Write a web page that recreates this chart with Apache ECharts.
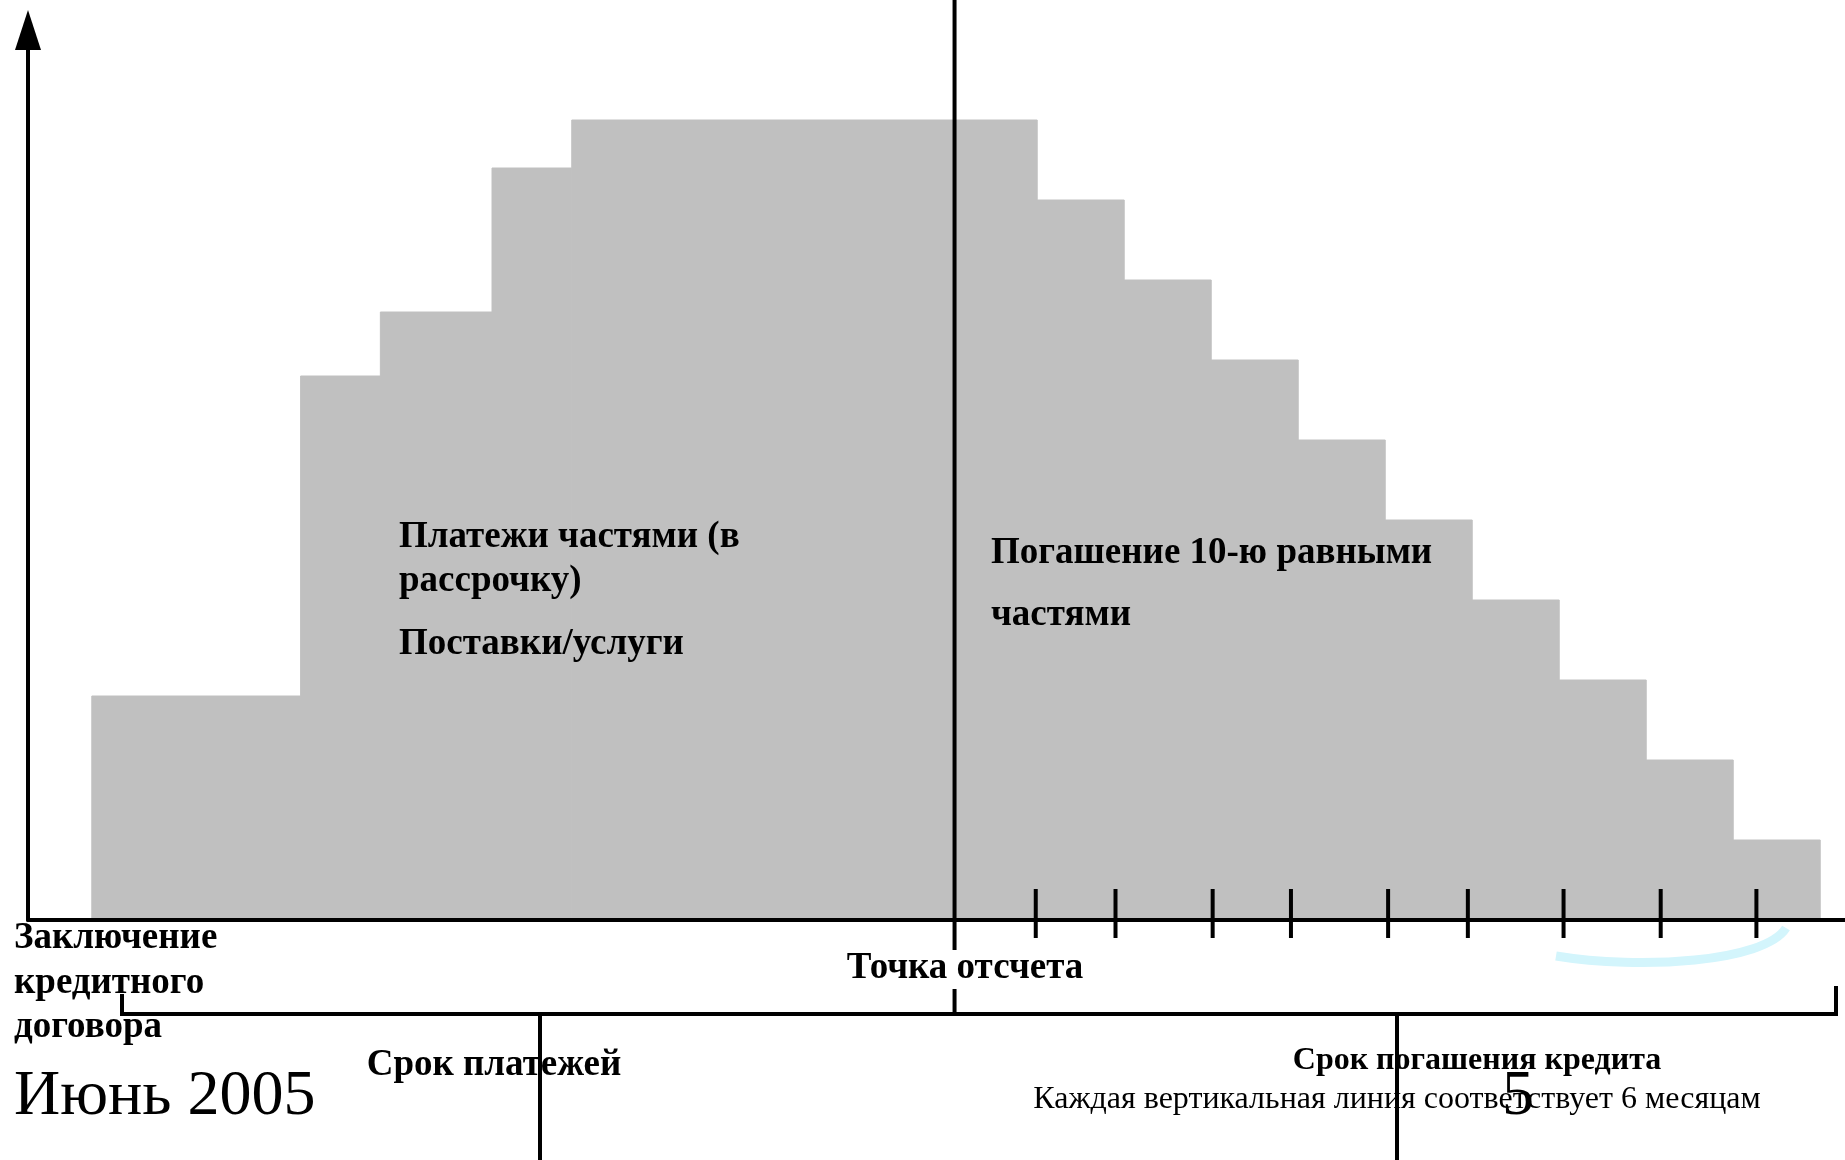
<!DOCTYPE html>
<html>
<head>
<meta charset="utf-8">
<script src="https://cdn.jsdelivr.net/npm/echarts@6/dist/echarts.min.js"></script>
<style>
  html, body { margin: 0; padding: 0; background: #fff; }
  #chart { width: 1845px; height: 1160px; }
</style>
</head>
<body>
<div id="chart"></div>
<script>
// x is in months from the y axis, y is in repayment parts (1/10 of the loan)
const stepStart  = [4.4, 18.8, 24.3, 32.0, 37.5, 69.6, 75.6, 81.6, 87.6, 93.6, 99.6, 105.6, 111.6, 117.6];
const stepEnd    = [18.8, 24.3, 32.0, 37.5, 69.6, 75.6, 81.6, 87.6, 93.6, 99.6, 105.6, 111.6, 117.6, 123.6];
const stepHeight = [2.8, 6.8, 7.6, 9.4, 10, 9, 8, 7, 6, 5, 4, 3, 2, 1];

// repayment marks along the axis and the starting point
const tickMonths = [69.5, 75.0, 81.7, 87.1, 93.8, 99.3, 105.9, 112.6, 119.2];
const refMonth = 63.9;

const serif = '"Times New Roman", "Liberation Serif", serif';

const chart = echarts.init(document.getElementById("chart"));

function label(text, x, y, size, bold, align) {
  return {
    type: "text",
    x: x,
    y: y,
    z: 100,
    style: {
      text: text,
      fill: "#000",
      font: (bold ? "bold " : "") + size + "px " + serif,
      textAlign: align || "left",
      textVerticalAlign: "middle",
    },
  };
}

function seg(x1, y1, x2, y2) {
  return {
    type: "line",
    z: 90,
    shape: { x1: x1, y1: y1, x2: x2, y2: y2 },
    style: { stroke: "#000", lineWidth: 4 },
  };
}

chart.setOption({
  animation: false,
  backgroundColor: "#fff",
  grid: { left: 28, right: 0, top: 30, bottom: 240, outerBoundsMode: "none" },
  xAxis: {
    type: "value",
    min: 0,
    max: 125.31,
    z: 10,
    axisLine: { show: true, lineStyle: { color: "#000", width: 4 } },
    axisTick: { show: false },
    axisLabel: { show: false },
    splitLine: { show: false },
  },
  yAxis: {
    type: "value",
    min: 0,
    max: 11.125,
    z: 10,
    axisLine: {
      show: true,
      symbol: ["none", "triangle"],
      symbolSize: [26, 40],
      lineStyle: { color: "#000", width: 4 },
    },
    axisTick: { show: false },
    axisLabel: { show: false },
    splitLine: { show: false },
  },
  series: [
    {
      type: "custom",
      name: "steps",
      z: 2,
      data: stepStart.map((s, i) => [s, stepEnd[i], stepHeight[i]]),
      renderItem: function (params, api) {
        const p0 = api.coord([api.value(0), api.value(2)]);
        const p1 = api.coord([api.value(1), 0]);
        return {
          type: "rect",
          shape: { x: p0[0], y: p0[1], width: p1[0] - p0[0], height: p1[1] - p0[1] },
          style: { fill: "#c0c0c0", stroke: "#c0c0c0", lineWidth: 1 },
        };
      },
    },
    {
      type: "custom",
      name: "ticks",
      z: 20,
      data: tickMonths.map((m) => [m, 0]),
      renderItem: function (params, api) {
        const p = api.coord([api.value(0), 0]);
        return {
          type: "line",
          shape: { x1: p[0], y1: p[1] - 31, x2: p[0], y2: p[1] + 18 },
          style: { stroke: "#000", lineWidth: 4 },
        };
      },
    },
    {
      type: "custom",
      name: "reference",
      z: 20,
      clip: false,
      data: [[refMonth, 0]],
      renderItem: function (params, api) {
        const p = api.coord([api.value(0), 0]);
        return {
          type: "group",
          children: [
            { type: "line", shape: { x1: p[0], y1: 0, x2: p[0], y2: p[1] + 30 }, style: { stroke: "#000", lineWidth: 4 } },
            { type: "line", shape: { x1: p[0], y1: p[1] + 69, x2: p[0], y2: p[1] + 94 }, style: { stroke: "#000", lineWidth: 4 } },
          ],
        };
      },
    },
  ],
  graphic: [
    // bracket under the time line
    seg(122, 1014, 1838, 1014),
    seg(122, 994, 122, 1016),
    seg(1836, 986, 1836, 1016),
    seg(540, 1012, 540, 1160),
    seg(1397, 1012, 1397, 1160),
    {
      type: "bezierCurve",
      z: 5,
      shape: { x1: 1556, y1: 956, cpx1: 1640, cpy1: 970, cpx2: 1765, cpy2: 962, x2: 1786, y2: 928 },
      style: { stroke: "#d3f5fc", lineWidth: 9, fill: null },
    },
    label("Платежи частями (в", 399, 537, 37, true),
    label("рассрочку)", 399, 581, 37, true),
    label("Поставки/услуги", 399, 644, 37, true),
    label("Погашение 10-ю равными", 991, 553, 37, true),
    label("частями", 991, 615, 37, true),
    label("Заключение", 14, 938, 37, true),
    label("кредитного", 14, 983, 37, true),
    label("договора", 14, 1027, 37, true),
    label("Точка отсчета", 965, 968, 37, true, "center"),
    label("Срок платежей", 494, 1065, 37, true, "center"),
    label("Июнь 2005", 14, 1097, 64, false),
    label("Срок погашения кредита", 1477, 1061, 32, true, "center"),
    label("Каждая вертикальная линия соответствует 6 месяцам", 1397, 1100, 32, false, "center"),
    label("5", 1518, 1097, 64, false, "center"),
  ],
});
</script>
</body>
</html>
